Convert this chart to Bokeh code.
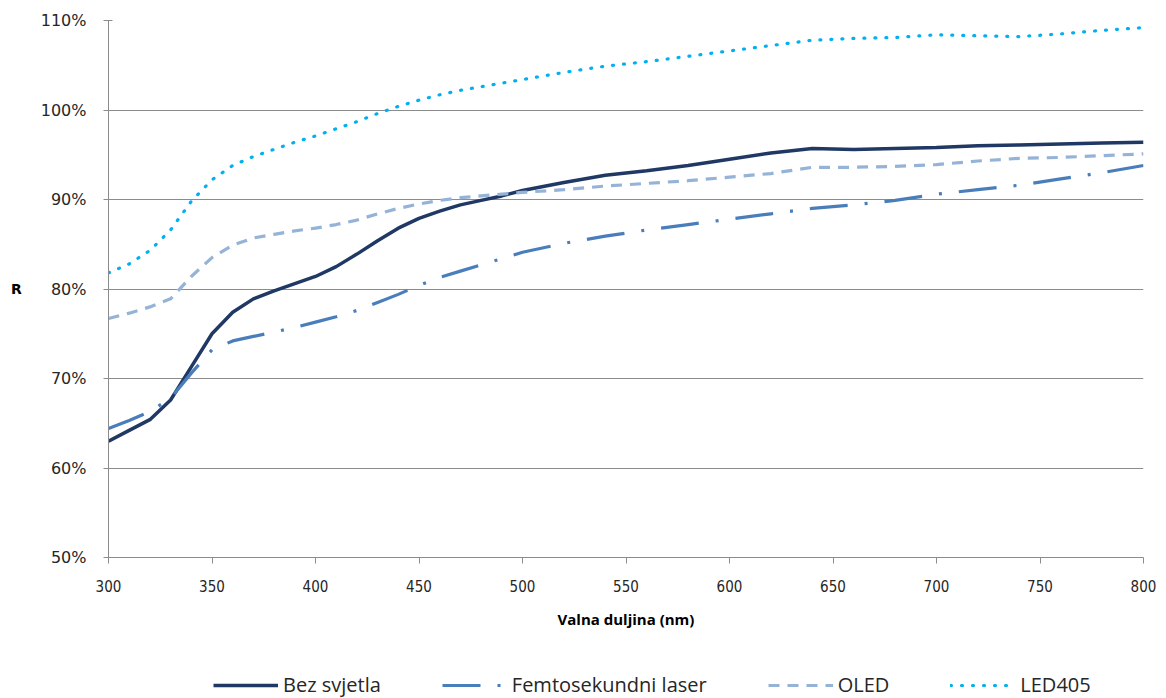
from bokeh.plotting import figure
from bokeh.layouts import column
from bokeh.models import Legend, LegendItem, PrintfTickFormatter, FixedTicker, Range1d
from bokeh.embed import file_html
from bokeh.resources import INLINE

wavelength = [300, 310, 320, 330, 340, 350, 360, 370, 380, 390, 400, 410, 420, 430, 440, 450,
              460, 470, 480, 490, 500, 520, 540, 560, 580, 600, 620, 640, 660, 680, 700, 720,
              740, 760, 780, 800]

bez_svjetla = [63.0, 64.2, 65.4, 67.6, 71.3, 75.0, 77.4, 78.9, 79.8, 80.6, 81.4, 82.5, 83.9, 85.4,
               86.8, 87.9, 88.7, 89.4, 89.9, 90.4, 91.0, 91.9, 92.7, 93.2, 93.8, 94.5, 95.2, 95.7,
               95.6, 95.7, 95.8, 96.0, 96.1, 96.2, 96.3, 96.4]

femto = [64.4, 65.3, 66.3, 67.8, 70.6, 73.2, 74.2, 74.7, 75.2, 75.7, 76.3, 76.9, 77.6, 78.5, 79.4,
         80.4, 81.3, 82.0, 82.7, 83.4, 84.1, 85.1, 85.9, 86.6, 87.2, 87.8, 88.4, 89.0, 89.4, 89.9,
         90.6, 91.1, 91.6, 92.3, 93.0, 93.8]

oled = [76.7, 77.3, 78.0, 78.9, 81.4, 83.5, 84.9, 85.7, 86.1, 86.5, 86.8, 87.2, 87.7, 88.4, 89.0,
        89.5, 89.9, 90.2, 90.4, 90.6, 90.8, 91.1, 91.5, 91.8, 92.1, 92.5, 92.9, 93.6, 93.6, 93.7,
        93.9, 94.3, 94.6, 94.7, 94.9, 95.1]

led405 = [81.8, 82.8, 84.3, 86.6, 89.8, 92.2, 93.8, 94.8, 95.6, 96.4, 97.1, 97.9, 98.7, 99.6, 100.4,
          101.1, 101.7, 102.2, 102.6, 103.0, 103.4, 104.2, 104.9, 105.4, 106.0, 106.6, 107.2, 107.8,
          108.0, 108.1, 108.4, 108.3, 108.2, 108.5, 108.9, 109.2]

series_names = ["Bez svjetla", "Femtosekundni laser", "OLED", "LED405"]
x_ticks = [300, 350, 400, 450, 500, 550, 600, 650, 700, 750, 800]
y_ticks = [50, 60, 70, 80, 90, 100, 110]

styles = [dict(line_color="#1f3864", line_width=3.5),
          dict(line_color="#4a7ebb", line_width=3.2, line_dash="38 17 3 17"),
          dict(line_color="#95b3d7", line_width=3.2, line_dash="11 8"),
          dict(line_color="#00b0f0", line_width=3.2, line_dash="1 10", line_cap="round")]
series = [bez_svjetla, femto, oled, led405]

p = figure(width=1158, height=650, output_backend="svg", toolbar_location=None,
           x_range=Range1d(300, 800), y_range=Range1d(50, 110),
           min_border_left=108, min_border_right=15, min_border_top=20, min_border_bottom=93)
p.outline_line_color = None
p.background_fill_color = "white"

grid_col = "#8c8c8c"
p.xgrid.grid_line_color = None
p.ygrid.grid_line_color = grid_col
p.ygrid.grid_line_width = 1
p.xaxis.ticker = FixedTicker(ticks=x_ticks)
p.yaxis.ticker = FixedTicker(ticks=y_ticks)
p.yaxis.formatter = PrintfTickFormatter(format="%d%%")

for ax in (p.xaxis[0], p.yaxis[0]):
    ax.axis_line_color = grid_col
    ax.major_tick_line_color = grid_col
    ax.minor_tick_line_color = None
    ax.major_label_text_color = "#262626"
    ax.axis_label_text_color = "#000000"
    ax.axis_label_text_font_style = "bold"

p.xaxis.major_tick_in = 0
p.xaxis.major_tick_out = 6
p.yaxis.major_tick_in = 4
p.yaxis.major_tick_out = 5
p.xaxis.major_label_text_font = "'DejaVu Sans Condensed', 'Liberation Sans', sans-serif"
p.xaxis.major_label_text_font_size = "15px"
p.xaxis.major_label_standoff = 16
p.yaxis.major_label_text_font = "DejaVu Sans"
p.yaxis.major_label_text_font_size = "16px"
p.yaxis.major_label_standoff = 17

p.xaxis.axis_label = "Valna duljina (nm)"
p.xaxis.axis_label_text_font = "Open Sans"
p.xaxis.axis_label_text_font_size = "15px"
p.xaxis.axis_label_standoff = 14
p.yaxis.axis_label = "R"
p.yaxis.axis_label_orientation = "horizontal"
p.yaxis.axis_label_text_font = "DejaVu Sans"
p.yaxis.axis_label_text_font_size = "14px"
p.yaxis.axis_label_standoff = 16

for ys, st in zip(series, styles):
    p.line(wavelength, ys, **st)

# legend strip below the chart (its lines lie outside its ranges, only the legend shows)
lf = figure(width=1158, height=48, output_backend="svg", toolbar_location=None,
            x_range=Range1d(0, 1), y_range=Range1d(0, 1), min_border=0)
lf.axis.visible = False
lf.grid.grid_line_color = None
lf.outline_line_color = None
rs = [lf.line(wavelength, ys, **st) for ys, st in zip(series, styles)]
legend = Legend(items=[LegendItem(label=series_names[i], renderers=[r]) for i, r in enumerate(rs)],
                orientation="horizontal", location=(105, 0),
                glyph_width=65, glyph_height=20, label_text_font="Open Sans",
                label_text_font_size="20px", label_text_color="#262626", spacing=61,
                border_line_color=None, background_fill_alpha=0, margin=0, padding=0,
                label_standoff=5)
lf.add_layout(legend, "center")

open("out.html", "w").write(file_html(column(p, lf), INLINE))
